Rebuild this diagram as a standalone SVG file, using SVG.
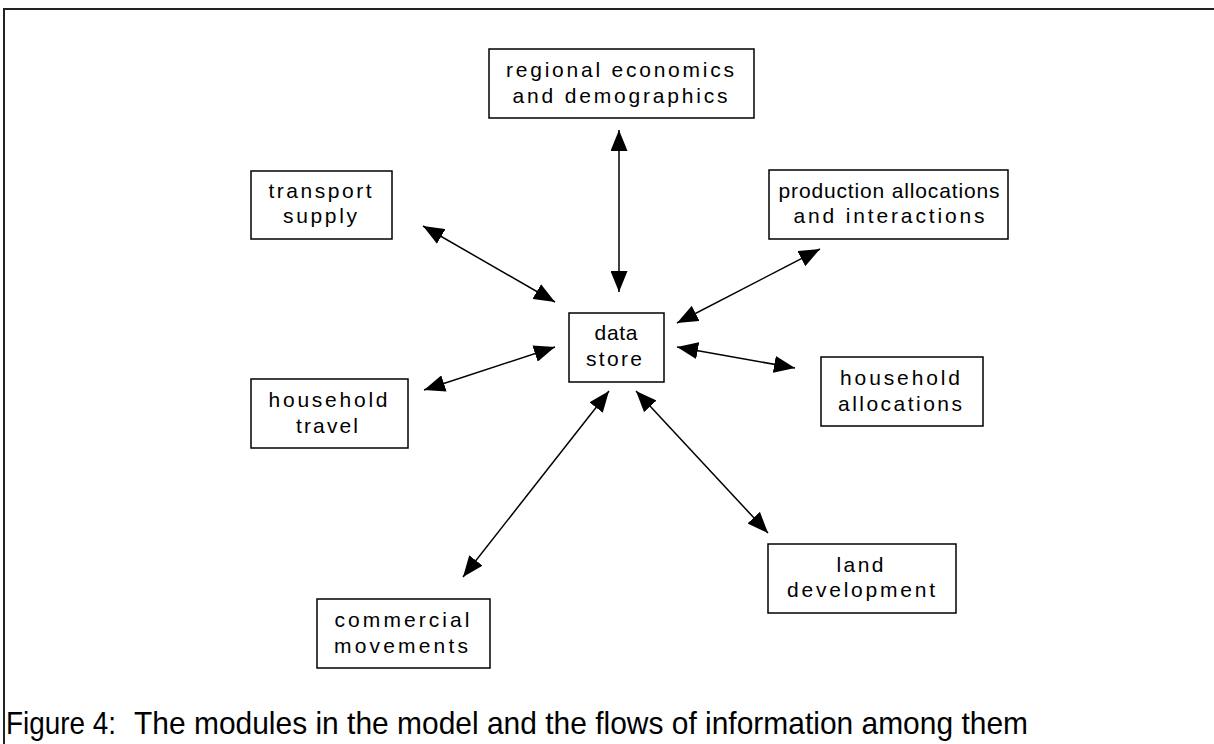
<svg xmlns="http://www.w3.org/2000/svg" width="1214" height="744" viewBox="0 0 1214 744">
  <style>
    .box { fill: #ffffff; stroke: #000000; stroke-width: 1.5; }
    .lbl { font-family: "Liberation Sans", Arial, sans-serif; font-size: 21px; fill: #000000; text-anchor: middle; }
    .link { stroke: #000000; stroke-width: 1.5; fill: none; marker-start: url(#head); marker-end: url(#head); }
    .frame { stroke: #222222; stroke-width: 2; fill: none; }
    .caption { font-family: "Liberation Sans", Arial, sans-serif; font-size: 32px; fill: #000000; }
  </style>
  <defs>
    <marker id="head" viewBox="0 0 21 17" markerWidth="21" markerHeight="17" refX="21" refY="8.5" orient="auto-start-reverse" markerUnits="userSpaceOnUse">
      <path d="M0,0 L21,8.5 L0,17 Z" fill="#000000"/>
    </marker>
  </defs>

  <rect x="0" y="0" width="1214" height="744" fill="#ffffff"/>

  <!-- outer frame: top and left edges -->
  <path class="frame" d="M4,744 L4,9 L1214,9"/>

  <!-- connectors -->
  <g id="connectors">
    <line class="link" x1="619" y1="130" x2="619" y2="292"/>
    <line class="link" x1="423" y1="226" x2="555" y2="302"/>
    <line class="link" x1="820" y1="249" x2="677" y2="323"/>
    <line class="link" x1="677" y1="347" x2="795" y2="368"/>
    <line class="link" x1="555" y1="347" x2="424" y2="390"/>
    <line class="link" x1="609" y1="391" x2="463" y2="577"/>
    <line class="link" x1="636" y1="391" x2="768" y2="533"/>
  </g>

  <g id="regional-economics">
    <rect class="box" x="489" y="49" width="265" height="69"/>
    <text class="lbl" x="620" y="77" textLength="228" lengthAdjust="spacing">regional economics</text>
    <text class="lbl" x="620" y="103" textLength="215" lengthAdjust="spacing">and demographics</text>
  </g>

  <g id="transport-supply">
    <rect class="box" x="251" y="171" width="141" height="68"/>
    <text class="lbl" x="320" y="198" textLength="103" lengthAdjust="spacing">transport</text>
    <text class="lbl" x="320" y="223" textLength="74" lengthAdjust="spacing">supply</text>
  </g>

  <g id="production-allocations">
    <rect class="box" x="769" y="170" width="239" height="69"/>
    <text class="lbl" x="889" y="198" textLength="221" lengthAdjust="spacing">production allocations</text>
    <text class="lbl" x="889" y="223" textLength="191" lengthAdjust="spacing">and interactions</text>
  </g>

  <g id="data-store">
    <rect class="box" x="569" y="313" width="95" height="69"/>
    <text class="lbl" x="616" y="340" textLength="43" lengthAdjust="spacing">data</text>
    <text class="lbl" x="614" y="366" textLength="56" lengthAdjust="spacing">store</text>
  </g>

  <g id="household-allocations">
    <rect class="box" x="821" y="357" width="162" height="69"/>
    <text class="lbl" x="900" y="385" textLength="120" lengthAdjust="spacing">household</text>
    <text class="lbl" x="900" y="411" textLength="124" lengthAdjust="spacing">allocations</text>
  </g>

  <g id="household-travel">
    <rect class="box" x="251" y="379" width="157" height="69"/>
    <text class="lbl" x="328" y="407" textLength="119" lengthAdjust="spacing">household</text>
    <text class="lbl" x="327" y="433" textLength="62" lengthAdjust="spacing">travel</text>
  </g>

  <g id="land-development">
    <rect class="box" x="768" y="544" width="188" height="69"/>
    <text class="lbl" x="860" y="572" textLength="47" lengthAdjust="spacing">land</text>
    <text class="lbl" x="861" y="597" textLength="148" lengthAdjust="spacing">development</text>
  </g>

  <g id="commercial-movements">
    <rect class="box" x="317" y="599" width="173" height="69"/>
    <text class="lbl" x="402" y="627" textLength="135" lengthAdjust="spacing">commercial</text>
    <text class="lbl" x="401" y="653" textLength="134" lengthAdjust="spacing">movements</text>
  </g>

  <!-- caption -->
  <text class="caption" x="6" y="734" textLength="110" lengthAdjust="spacingAndGlyphs">Figure 4:</text>
  <text class="caption" x="134" y="734" textLength="894" lengthAdjust="spacingAndGlyphs">The modules in the model and the flows of information among them</text>
</svg>
